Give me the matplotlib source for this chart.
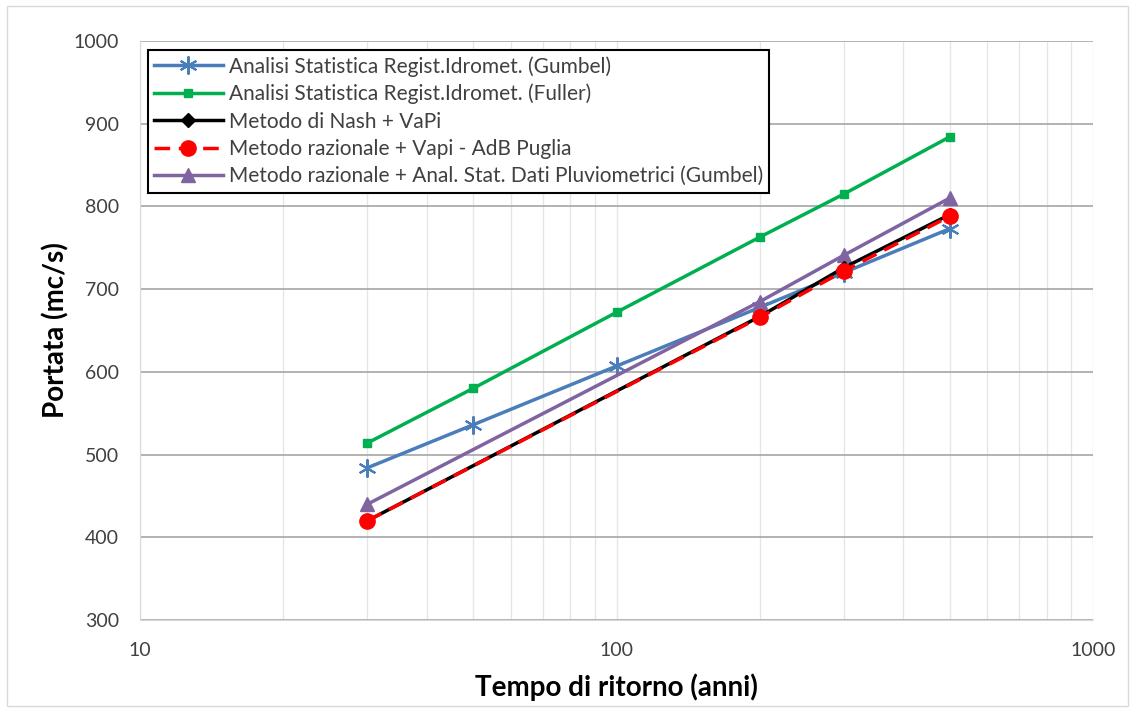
import matplotlib
matplotlib.use("Agg")
import matplotlib.pyplot as plt
from matplotlib.patches import Rectangle
from matplotlib.ticker import FixedLocator, LogLocator, NullFormatter

plt.rcParams['font.family'] = ['Lato', 'DejaVu Sans']

T_all = [30, 50, 100, 200, 300, 500]
T_sub = [30, 200, 300, 500]
gumbel = [484, 536, 607, 678, 720, 773]
fuller = [514, 580, 672, 763, 815, 884]
nash = [420, 667, 726, 790]
vapi = [420, 666, 722, 788]
raz_gumbel = [440, 685, 741, 810]

labels = [
    "Analisi Statistica Regist.Idromet. (Gumbel)",
    "Analisi Statistica Regist.Idromet. (Fuller)",
    "Metodo di Nash + VaPi",
    "Metodo razionale + Vapi - AdB Puglia",
    "Metodo razionale + Anal. Stat. Dati Pluviometrici (Gumbel)",
]
yticks = [300, 400, 500, 600, 700, 800, 900, 1000]
xticks = [10, 100, 1000]

fig = plt.figure(figsize=(11.33, 7.09), dpi=100)
fig.patches.append(Rectangle((0.006, 0.004), 0.99, 0.988, transform=fig.transFigure,
                             fill=False, edgecolor='#D9D9D9', linewidth=1))
ax = fig.add_axes([0.1236, 0.1255, 0.8411, 0.8167])

ax.plot(T_all, gumbel, color='#4A7EBB', lw=2.5, marker=(6, 2, 0), ms=13, mew=1.5, label=labels[0], zorder=3)
ax.plot(T_all, fuller, color='#00B050', lw=2.5, marker='s', ms=6, label=labels[1], zorder=3)
ax.plot(T_sub, nash, color='black', lw=2.5, marker='D', ms=7, label=labels[2], zorder=4)
ax.plot(T_sub, vapi, color='#FF0000', lw=2.5, ls=(0, (4.5, 2.5)), marker='o', ms=11, label=labels[3], zorder=5)
ax.plot(T_sub, raz_gumbel, color='#8064A2', lw=2.5, marker='^', ms=10, label=labels[4], zorder=3)

ax.set_xscale('log')
ax.set_xlim(10, 1000)
ax.set_ylim(300, 1000)
ax.xaxis.set_major_locator(FixedLocator(xticks))
ax.set_xticklabels([str(v) for v in xticks])
ax.xaxis.set_minor_locator(LogLocator(base=10, subs=range(2, 10)))
ax.xaxis.set_minor_formatter(NullFormatter())
ax.set_yticks(yticks)
ax.set_yticklabels([str(v) for v in yticks])

ax.grid(axis='y', which='major', color='#A6A6A6', lw=1.2)
ax.grid(axis='x', which='both', color='#E6E6E6', lw=1)
ax.set_axisbelow(True)
for s in ['top', 'right']:
    ax.spines[s].set_visible(False)
for s in ['left', 'bottom']:
    ax.spines[s].set_color('#D9D9D9')
ax.tick_params(axis='both', which='both', length=0, labelsize=14, colors='#404040')
ax.tick_params(axis='x', pad=16)
ax.tick_params(axis='y', pad=15)

ax.set_xlabel("Tempo di ritorno (anni)", fontsize=20, fontweight='bold', labelpad=10)
ax.set_ylabel("Portata (mc/s)", fontsize=20, fontweight='bold', labelpad=3)

leg = ax.legend(loc='upper left', bbox_to_anchor=(0.008, 0.985), fontsize=15, frameon=True,
                fancybox=False, edgecolor='black', framealpha=1, borderpad=0.3,
                handlelength=3.3, labelspacing=0.35, handletextpad=0.3, borderaxespad=0)
leg.get_frame().set_linewidth(1.5)
for t in leg.get_texts():
    t.set_color('#404040')

fig.savefig("out.png", dpi=100)
